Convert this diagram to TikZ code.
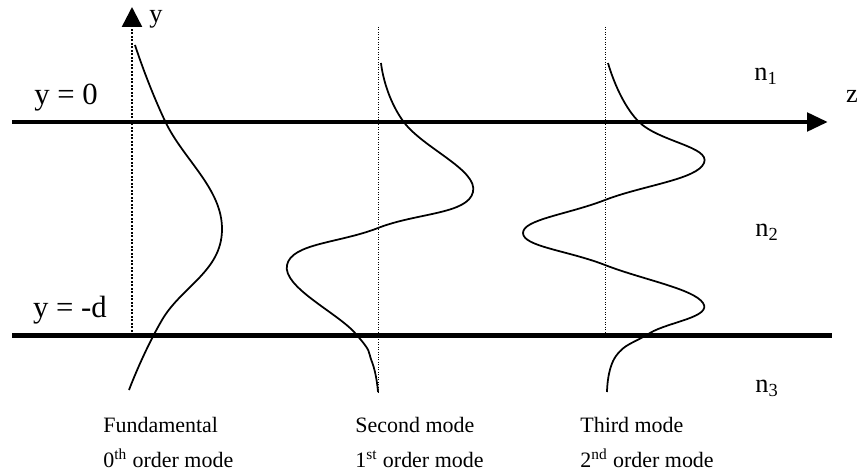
\documentclass[tikz,border=0pt]{standalone}
\usepackage{fontspec}
\setmainfont{Liberation Serif}
\usetikzlibrary{arrows.meta,positioning}

\begin{document}
\begin{tikzpicture}[
    x=0.02cm, y=-0.02cm,
    boundary/.style={line width=0.1cm},
    axisline/.style={line width=0.05cm, dash pattern=on 0.04cm off 0.03cm},
    guide/.style={line width=0.02cm, dash pattern=on 0.02cm off 0.03cm},
    profile/.style={line width=0.035cm, smooth, tension=0.75},
    edgelabel/.style={font=\fontsize{17.5}{20}\selectfont, inner sep=0pt},
    region/.style={font=\fontsize{15}{18}\selectfont, inner sep=0pt},
    caption/.style={font=\fontsize{12.5}{15}\selectfont, inner sep=0pt, anchor=base west}
]
\useasboundingbox (0,0) rectangle (858,473);

% layer boundaries and axes
\coordinate (topL) at (12,122);
\coordinate (topR) at (828,122);
\coordinate (botL) at (12,335);
\coordinate (botR) at (832,335);
\coordinate (yBot) at (132,335);
\coordinate (yTop) at (132,7);
\coordinate (g1t) at (378,27);
\coordinate (g1b) at (378,393);
\coordinate (g2t) at (605,27);
\coordinate (g2b) at (605,335);

\draw[boundary, -{Triangle[length=0.42cm, width=0.36cm]}] (topL) -- (topR);
\draw[boundary] (botL) -- (botR);
\draw[axisline, -{Triangle[length=0.4cm, width=0.4cm]}] (yBot) -- (yTop);
\draw[guide] (g1t) -- (g1b);
\draw[guide] (g2t) -- (g2b);

% mode profiles
\draw[profile] plot coordinates {(135,45) (165,121) (222,230) (162,320) (129,390)};
\draw[profile] plot coordinates {(381,63) (403,121) (473,192) (378,228) (287,265)
    (355,333) (372,362) (378,392)};
\draw[profile] plot coordinates {(608,63) (638,121) (704,163) (605,200) (523,233)
    (605,265) (703,303) (650,333) (616,356) (607,392)};

% labels
\node[edgelabel] (ytop) at (66,98) {y = 0};
\node[edgelabel] (ybot) at (70,310) {y = -d};
\node[region] (ylab) at (156,19) {y};
\node[region] (zlab) at (852,96) {z};
\node[region] (n1) at (766,76) {n\textsubscript{1}};
\node[region] (n2) at (767,232) {n\textsubscript{2}};
\node[region] (n3) at (767,388) {n\textsubscript{3}};

\node[caption] (fund) at (103,432) {Fundamental};
\node[caption] (fundord) at (103,467) {0\textsuperscript{th} order mode};
\node[caption] (second) at (355,432) {Second mode};
\node[caption] (secondord) at (355,467) {1\textsuperscript{st} order mode};
\node[caption] (third) at (580,432) {Third mode};
\node[caption] (thirdord) at (580,467) {2\textsuperscript{nd} order mode};

\end{tikzpicture}
\end{document}
